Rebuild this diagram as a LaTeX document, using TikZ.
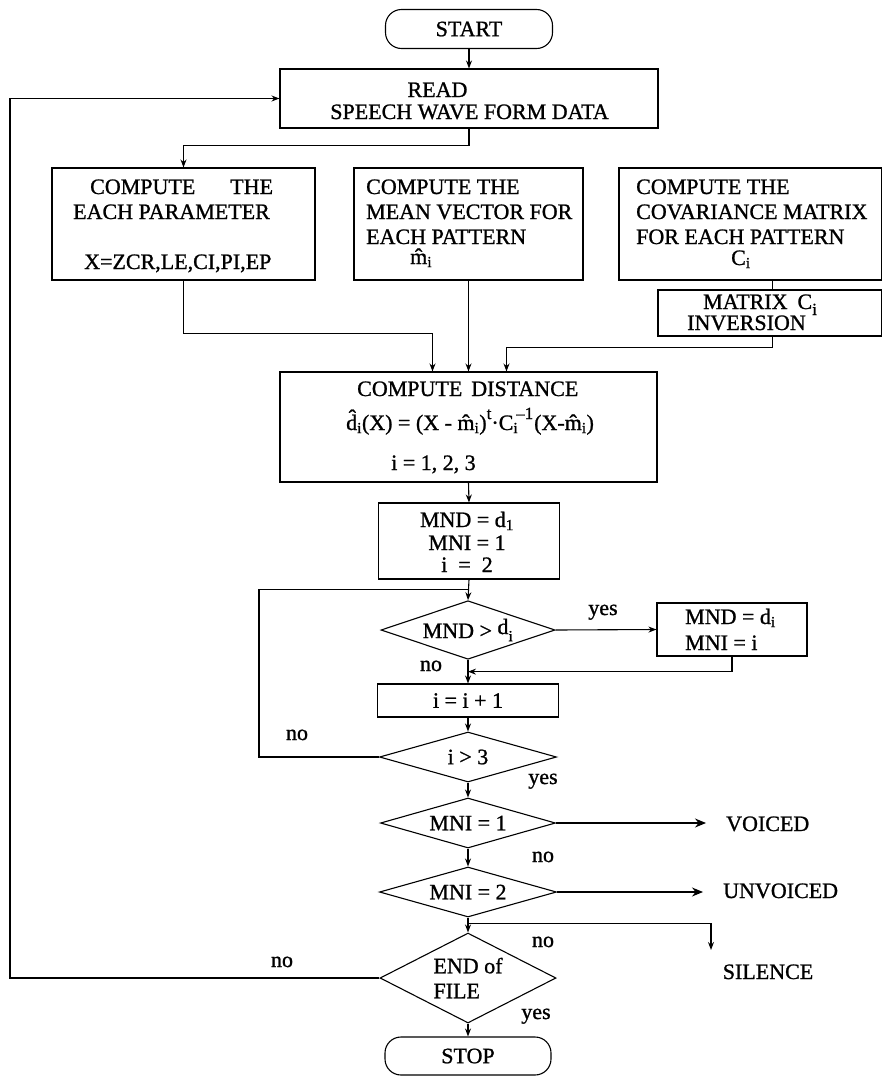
\documentclass[tikz,border=0pt]{standalone}
\usepackage{fontspec}
\setmainfont[FakeBold=1]{Liberation Serif}
\usetikzlibrary{arrows.meta,shapes.geometric,calc}
\tikzset{
  every node/.style={font=\fontsize{22}{25}\selectfont, inner sep=0pt},
  box/.style={draw, line width=1.1pt, rectangle},
  term/.style={draw, line width=1.1pt, rectangle, rounded corners=16pt},
  dec/.style={draw, line width=1.1pt, diamond, aspect=2.5},
  txt/.style={anchor=base west},
  txc/.style={anchor=base},
  arr/.style={line width=1.1pt, -{Stealth[length=8pt,width=6pt]}},
  ln/.style={line width=1.1pt},
  bigarr/.style={line width=1.1pt, -{Stealth[length=11pt,width=9pt]}},
}
\newcommand{\supsm}[1]{{\fontsize{17}{17}\selectfont #1}}
\begin{document}
\begin{tikzpicture}[x=1pt,y=-1pt]
\path[fill=white] (0,0) rectangle (882,1076);
\useasboundingbox (0,0) rectangle (882,1076);

% boxes
\node[term, minimum width=167pt, minimum height=39pt] (start) at (469,29) {START};
\node[box, minimum width=378pt, minimum height=59pt] (read) at (469,98.5) {};
\node[txc] (tread) at (437.5,97) {READ};
\node[txc] (tspeech) at (469.5,119) {SPEECH WAVE FORM DATA};

\node[box, minimum width=263pt, minimum height=112pt] (param) at (183.5,224) {};
\node[txt] (tp1) at (90,194) {COMPUTE\hspace{35pt}THE};
\node[txt] (tp2) at (73,219) {EACH PARAMETER};
\node[txt] (tp3) at (84,269) {X=ZCR,LE,CI,PI,EP};

\node[box, minimum width=229pt, minimum height=112pt] (mean) at (468.5,224) {};
\node[txt] (tm1) at (366,194) {COMPUTE THE};
\node[txt] (tm2) at (366,219) {MEAN VECTOR FOR};
\node[txt] (tm3) at (366,244) {EACH PATTERN};
\node[txt] (tm4) at (410,264) {\^{m}\textsubscript{i}};

\node[box, minimum width=262.5pt, minimum height=112pt] (cov) at (750.25,224) {};
\node[txt] (tc1) at (636,194) {COMPUTE THE};
\node[txt] (tc2) at (636,219) {COVARIANCE MATRIX};
\node[txt] (tc3) at (636,244) {FOR EACH PATTERN};
\node[txt] (tc4) at (731,265) {C\textsubscript{i}};

\node[box, minimum width=223.5pt, minimum height=46pt] (inv) at (769.75,313) {};
\node[txt] (ti1) at (703,309) {MATRIX\hspace{10pt}C\raisebox{-6pt}{\supsm{i}}};
\node[txt] (ti2) at (687,330) {INVERSION};

\node[box, minimum width=377pt, minimum height=110pt] (dist) at (468.5,427) {};
\node[txt] (td1) at (357,396) {COMPUTE\hspace{9pt}DISTANCE};
\node[txt] (td2) at (346,430) {\^{d}\textsubscript{i}(X) = (X - \^{m}\textsubscript{i})\raisebox{11pt}{\supsm{t}}\textperiodcentered C\rlap{\raisebox{11pt}{\supsm{\,--1}}}\textsubscript{i}\hspace{16pt}(X-\^{m}\textsubscript{i})};
\node[txt] (td3) at (391,470) {i = 1, 2, 3};

\node[box, minimum width=181pt, minimum height=76pt] (init) at (469,541) {};
\node[txc] (tn1) at (467,527) {MND = d\textsubscript{1}};
\node[txc] (tn2) at (467,550) {MNI = 1};
\node[txc] (tn3) at (467,572) {i\ \ =\ \ 2};

\node[dec, minimum width=174pt, minimum height=54pt] (d1) at (468,630) {MND > \raisebox{4pt}{d}\textsubscript{i}};
\node[box, minimum width=150pt, minimum height=53pt] (upd) at (732,629.5) {};
\node[txt] (tu1) at (685,624) {MND = d\textsubscript{i}};
\node[txt] (tu2) at (685,650) {MNI = i};

\node[box, minimum width=181pt, minimum height=33pt] (inc) at (468,700.5) {i = i + 1};
\node[dec, minimum width=177pt, minimum height=50pt] (d2) at (468,757) {i > 3};
\node[dec, minimum width=175pt, minimum height=50pt] (d3) at (468,823) {MNI = 1};
\node[dec, minimum width=177pt, minimum height=50pt] (d4) at (468,892) {MNI = 2};
\node[dec, minimum width=176pt, minimum height=90pt, align=left] (d5) at (468,978) {END of\\FILE};
\node[term, minimum width=166pt, minimum height=38pt] (stop) at (468,1056) {STOP};

% outputs
\node[txt] (voiced) at (726,831) {VOICED};
\node[txt] (unvoiced) at (723,898) {UNVOICED};
\node[txc] (silence) at (768,979) {SILENCE};

% labels
\node[txc] (l1) at (603,615) {yes};
\node[txc] (l2) at (431,671) {no};
\node[txc] (l3) at (297,740) {no};
\node[txc] (l4) at (543,784) {yes};
\node[txc] (l5) at (543,862) {no};
\node[txc] (l6) at (543,947) {no};
\node[txc] (l7) at (282,967) {no};
\node[txc] (l8) at (536,1019) {yes};

% connectors
\coordinate (lft) at (10,0);
\coordinate (silend) at (711,950);
\draw[arr] (start.south) -- (read.north);
\draw[arr] (d5.west) -- (d5.west -| lft) |- (read.west);
\draw[arr] (read.south) -- ++(0,17) -| (param.north);
\draw[arr] (param.south) -- ++(0,53) -| ([xshift=-36pt]dist.north);
\draw[arr] (mean.south) -- (dist.north);
\draw[ln] ([xshift=3pt]inv.north) -- ([xshift=3pt]inv.north |- cov.south);
\draw[arr] ([xshift=3pt]inv.south) -- ++(0,11) -| ([xshift=38pt]dist.north);
\draw[arr] (dist.south) -- (init.north);
\draw[arr] (init.south) -- (d1.north);
\draw[ln] (d2.west) -- ++(-120,0) |- ($(init.south)!0.5!(d1.north)$);
\draw[arr] (d1.east) -- (upd.west);
\draw[arr] (upd.south) |- ($(d1.south)!0.5!(inc.north)$);
\draw[arr] (d1.south) -- (inc.north);
\draw[arr] (inc.south) -- (d2.north);
\draw[arr] (d2.south) -- (d3.north);
\draw[bigarr, shorten >=20pt] (d3.east) -- (d3.east -| voiced.west);
\draw[arr] (d3.south) -- (d4.north);
\draw[bigarr, shorten >=20pt] (d4.east) -- (d4.east -| unvoiced.west);
\draw[arr] (d4.south) -- (d5.north);
\draw[arr] ($(d4.south)!0.4!(d5.north)$) -| (silend);
\draw[arr] (d5.south) -- (stop.north);
\end{tikzpicture}
\end{document}
